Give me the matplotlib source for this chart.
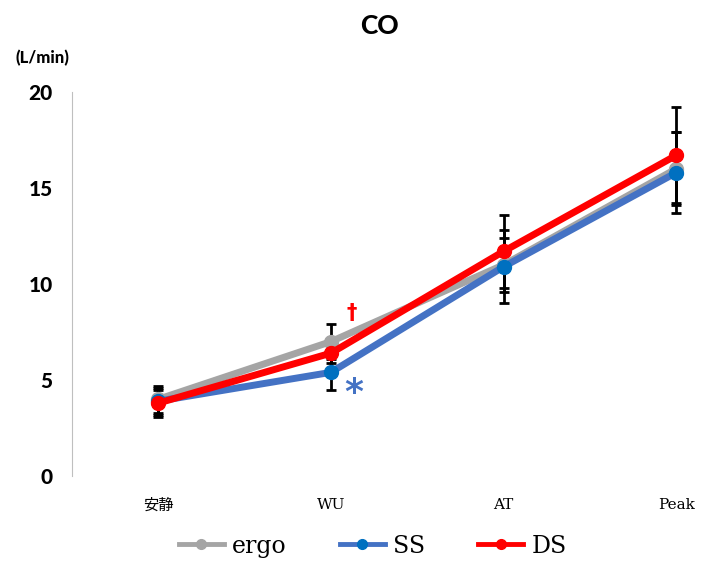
import matplotlib
matplotlib.use("Agg")
import matplotlib.pyplot as plt
import numpy as np

# data
categories = ["安静", "WU", "AT", "Peak"]
ergo = [4.0, 7.0, 11.0, 16.0]
ergo_err = [0.7, 0.9, 1.4, 1.9]
ss = [3.9, 5.4, 10.9, 15.8]
ss_err = [0.7, 0.9, 1.9, 2.1]
ds = [3.8, 6.4, 11.7, 16.7]
ds_err = [0.7, 0.5, 1.9, 2.5]
y_ticks = [0, 5, 10, 15, 20]

series = [
    ("ergo", ergo, ergo_err, "#A5A5A5", "#A5A5A5"),
    ("SS", ss, ss_err, "#4472C4", "#0070C0"),
    ("DS", ds, ds_err, "#FF0000", "#FF0000"),
]

fig = plt.figure(figsize=(7.02, 5.63), dpi=100)
ax = fig.add_axes([0.1026, 0.1545, 0.8974, 0.682])

x = np.arange(len(categories))

# error bars first (black, behind lines)
for name, vals, errs, lc, mc in series:
    ax.errorbar(x, vals, yerr=errs, fmt="none", ecolor="black",
                elinewidth=2, capsize=3.5, capthick=2, zorder=2)

for name, vals, errs, lc, mc in series:
    ax.plot(x, vals, color=lc, lw=5, marker="o", markersize=10,
            markerfacecolor=mc, markeredgecolor=mc, label=name, zorder=3)

ax.set_xlim(-0.5, 3.15)
ax.set_ylim(0, 20)
ax.set_yticks(y_ticks)
ax.set_yticklabels([str(t) for t in y_ticks], fontsize=15, fontweight=900,
                   family="Lato")
ax.set_xticks(x)
ax.set_xticklabels(categories, fontsize=11,
                   family=["DejaVu Serif", "Noto Sans CJK JP"])
ax.tick_params(axis="y", length=0, pad=14)
ax.tick_params(axis="x", length=0, pad=16)

for s in ["top", "right", "bottom"]:
    ax.spines[s].set_visible(False)
ax.spines["left"].set_color("#BFBFBF")

# significance marks
ax.text(1.12, 8.5, "†", color="#FF0000", fontsize=15, fontweight="bold",
        ha="center", va="center")
ax.text(1.13, 4.3, "*", color="#4472C4", fontsize=26, fontweight="bold",
        ha="center", va="center")

fig.text(0.54, 0.953, "CO", fontsize=19, fontweight=900, family="Lato",
         ha="center", va="center")
fig.text(0.06, 0.897, "(L/min)", fontsize=12, fontweight=900,
         family="Lato", ha="center", va="center")

leg = fig.legend(loc="center", bbox_to_anchor=(0.531, 0.03), ncol=3,
                 frameon=False, prop={"family": "DejaVu Serif", "size": 17},
                 handlelength=1.9, columnspacing=2.25, handletextpad=0.35)
for line in leg.get_lines():
    line.set_linewidth(3.5)
    line.set_markersize(7)

fig.savefig("out.png", dpi=100)
